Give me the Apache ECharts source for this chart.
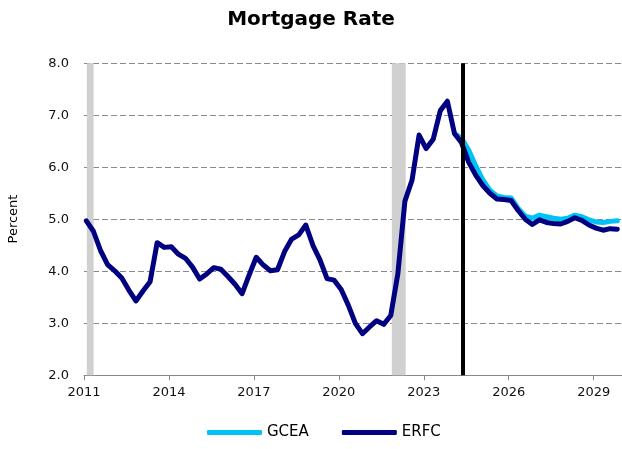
<!DOCTYPE html>
<html>
<head>
<meta charset="utf-8">
<script src="https://cdn.jsdelivr.net/npm/echarts@6/dist/echarts.min.js"></script>
<style>
html,body{margin:0;padding:0;background:#fff;}
#chart{width:622px;height:449px;}
</style>
</head>
<body>
<div id="chart"></div>
<script>
// Quarterly observations starting 2011 Q1 (plotted at mid-quarter month)
var startYear = 2011;
var erfc = [4.97,4.77,4.40,4.13,4.01,3.87,3.64,3.43,3.62,3.80,
            4.55,4.46,4.47,4.33,4.25,4.08,3.85,3.95,4.07,4.04,
            3.90,3.75,3.57,3.93,4.27,4.12,4.01,4.03,4.38,4.62,
            4.70,4.89,4.50,4.22,3.86,3.83,3.65,3.35,3.00,2.80,
            2.93,3.05,2.98,3.15,3.95,5.35,5.75,6.62,6.36,6.54,
            7.09,7.27,6.65,6.47,6.10,5.85,5.65,5.50,5.39,5.38,
            5.36,5.17,5.00,4.90,4.99,4.94,4.92,4.91,4.96,5.03,
            4.98,4.89,4.83,4.79,4.82,4.81];
var gceaStartIndex = 52;
var gcea = [6.65,6.56,6.33,6.03,5.76,5.56,5.45,5.42,5.41,5.21,
            5.06,5.02,5.08,5.05,5.02,5.00,5.02,5.08,5.05,4.99,
            4.95,4.94,4.96,4.97];
var shadedPeriods = [[2011.10, 2011.34], [2021.87, 2022.36]];
var forecastStart = 2024.38;
var xTicks = [2011, 2014, 2017, 2020, 2023, 2026, 2029];

function qx(i){ return startYear + 1/12 + i/4; }
var erfcData = erfc.map(function(v,i){ return [qx(i), v]; });
var gceaData = gcea.map(function(v,i){ return [qx(i + gceaStartIndex), v]; });

var chart = echarts.init(document.getElementById('chart'), null, {renderer:'canvas'});
var font = 'DejaVu Sans, Verdana, sans-serif';
chart.setOption({
  animation: false,
  backgroundColor: '#fff',
  title: {
    text: 'Mortgage Rate', left: 'center', top: 5,
    textStyle: {fontFamily: font, fontSize: 20, fontWeight: 'bold', color: '#000'}
  },
  grid: {left: 84, right: 0, top: 63.3, bottom: 73.7, containLabel: false},
  legend: {
    data: ['GCEA', 'ERFC'], left: 202, top: 420,
    icon: 'roundRect', itemWidth: 55, itemHeight: 5, itemGap: 33,
    textStyle: {fontFamily: font, fontSize: 15, color: '#000'}
  },
  graphic: [{
    type: 'text', rotation: Math.PI/2,
    x: 14, y: 219,
    style: {text: 'Percent', fontFamily: font, fontSize: 13, fill: '#000', textAlign: 'center', textVerticalAlign: 'middle'}
  }],
  xAxis: {
    type: 'value', min: 2011, max: 2030,
    axisLine: {show: true, lineStyle: {color: '#888', width: 1}},
    axisTick: {show: true, length: 5, customValues: xTicks, lineStyle: {color: '#888'}},
    axisLabel: {customValues: xTicks, margin: 11, fontFamily: font, fontSize: 13, color: '#111',
      formatter: function(v){ return String(v); }},
    splitLine: {show: false}
  },
  yAxis: {
    type: 'value', min: 2, max: 8, interval: 1,
    axisLine: {show: false}, axisTick: {show: false},
    axisLabel: {margin: 15, fontFamily: font, fontSize: 13, color: '#111',
      formatter: function(v){ return v.toFixed(1); }},
    splitLine: {show: true, lineStyle: {color: '#8a8a8a', type: [6,3], width: 1}}
  },
  series: [
    {
      name: 'shade', type: 'line', data: [], z: 1, silent: true,
      markArea: {silent: true, itemStyle: {color: '#d0d0d0'},
        data: shadedPeriods.map(function(p){ return [{xAxis: p[0]}, {xAxis: p[1]}]; })}
    },
    {
      name: 'GCEA', type: 'line', data: gceaData, showSymbol: false, symbol: 'none', z: 3,
      lineStyle: {color: '#00C3F5', width: 5, cap: 'round', join: 'round'},
      itemStyle: {color: '#00C3F5'}
    },
    {
      name: 'ERFC', type: 'line', data: erfcData, showSymbol: false, symbol: 'none', z: 4,
      lineStyle: {color: '#000080', width: 5, cap: 'round', join: 'round'},
      itemStyle: {color: '#000080'}
    },
    {
      name: 'forecast', type: 'line', data: [], z: 10, silent: true,
      markLine: {silent: true, symbol: ['none','none'], label: {show: false},
        lineStyle: {color: '#000', width: 4, type: 'solid'},
        data: [{xAxis: forecastStart}]}
    }
  ]
});
</script>
</body>
</html>
